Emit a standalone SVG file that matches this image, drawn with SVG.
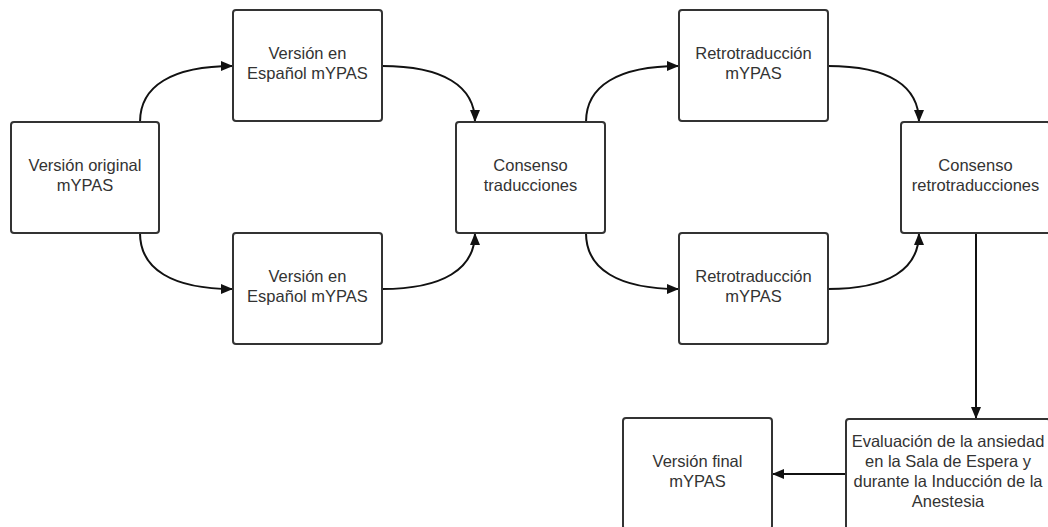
<svg xmlns="http://www.w3.org/2000/svg" width="1048" height="527" viewBox="0 0 1048 527">
<style>
.box{fill:#fff;stroke:#333;stroke-width:2}
.lbl{font-family:"Liberation Sans",Arial,sans-serif;font-size:16.5px;fill:#333;text-anchor:middle}
.edge{fill:none;stroke:#111;stroke-width:2;marker-end:url(#arr)}
</style>
<defs>
<marker id="arr" viewBox="0 0 12 10" refX="12" refY="5" markerWidth="12" markerHeight="10" markerUnits="userSpaceOnUse" orient="auto">
<path d="M0,0 L12,5 L0,10 Z" fill="#111"/>
</marker>
</defs>
<rect width="1048" height="527" fill="#fff"/>
<g id="connectors">
<path class="edge" d="M140,122 C140,86 172,66 233,66"/>
<path class="edge" d="M382,66 C443,66 475,86 475,122"/>
<path class="edge" d="M140,233 C140,269 172,289 233,289"/>
<path class="edge" d="M382,289 C443,289 475,269 475,233"/>
<path class="edge" d="M586,122 C586,86 618,66 679,66"/>
<path class="edge" d="M828,66 C889,66 919,86 919,122"/>
<path class="edge" d="M586,233 C586,269 618,289 679,289"/>
<path class="edge" d="M828,289 C889,289 919,269 919,233"/>
<path class="edge" d="M976,233 L976,419"/>
<path class="edge" d="M846,474 L772,474"/>
</g>
<g id="n1"><rect class="box" x="11" y="122" width="148" height="111" rx="3"/>
<text class="lbl" x="85" y="171">Versión original</text><text class="lbl" x="85" y="191">mYPAS</text></g>
<g id="n2"><rect class="box" x="233" y="10" width="149" height="111" rx="3"/>
<text class="lbl" x="307.5" y="59">Versión en</text><text class="lbl" x="307.5" y="79">Español mYPAS</text></g>
<g id="n3"><rect class="box" x="233" y="233" width="149" height="111" rx="3"/>
<text class="lbl" x="307.5" y="282">Versión en</text><text class="lbl" x="307.5" y="302">Español mYPAS</text></g>
<g id="n4"><rect class="box" x="456" y="122" width="149" height="111" rx="3"/>
<text class="lbl" x="530.5" y="171">Consenso</text><text class="lbl" x="530.5" y="191">traducciones</text></g>
<g id="n5"><rect class="box" x="679" y="10" width="149" height="111" rx="3"/>
<text class="lbl" x="753.5" y="59">Retrotraducción</text><text class="lbl" x="753.5" y="79">mYPAS</text></g>
<g id="n6"><rect class="box" x="679" y="233" width="149" height="111" rx="3"/>
<text class="lbl" x="753.5" y="282">Retrotraducción</text><text class="lbl" x="753.5" y="302">mYPAS</text></g>
<g id="n7"><rect class="box" x="901" y="122" width="149" height="111" rx="3"/>
<text class="lbl" x="975.5" y="171">Consenso</text><text class="lbl" x="975.5" y="191">retrotraducciones</text></g>
<g id="n8"><rect class="box" x="846" y="419" width="204" height="111" rx="3"/>
<text class="lbl" x="948" y="447">Evaluación de la ansiedad</text><text class="lbl" x="948" y="467">en la Sala de Espera y</text><text class="lbl" x="948" y="487">durante la Inducción de la</text><text class="lbl" x="948" y="507">Anestesia</text></g>
<g id="n9"><rect class="box" x="623" y="418" width="149" height="111" rx="3"/>
<text class="lbl" x="697.5" y="467">Versión final</text><text class="lbl" x="697.5" y="487">mYPAS</text></g>
</svg>
